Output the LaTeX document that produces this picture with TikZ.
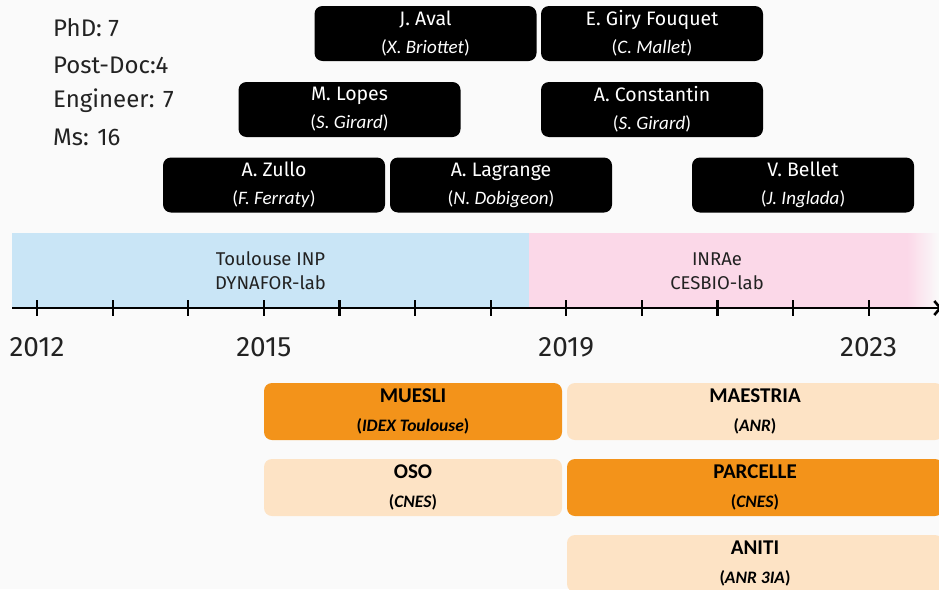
\documentclass[tikz,border=0pt]{standalone}
\usepackage{fontspec}
\usetikzlibrary{arrows.meta}
\setmainfont{Fira Sans}
\newfontfamily\condfont{Carlito}
\definecolor{bgc}{HTML}{FAFAFA}
\definecolor{bluec}{HTML}{C9E5F6}
\definecolor{pinkc}{HTML}{FBD8E8}
\definecolor{orangec}{HTML}{F3931A}
\definecolor{peachc}{HTML}{FDE3C5}
\definecolor{textc}{HTML}{222222}
\tikzset{
  student/.style={fill=black, rounded corners=8pt, minimum width=222pt, minimum height=55pt,
    text=white, align=center, inner sep=0pt, font=\fontsize{19.5}{28}\selectfont},
  project/.style={rounded corners=8pt, minimum height=57pt, inner sep=0pt, align=center,
    text=black, font=\fontsize{18}{29}\selectfont},
  hot/.style={project, fill=orangec},
  cold/.style={project, fill=peachc},
  stat/.style={anchor=west, inner sep=0pt, text=textc, font=\fontsize{24}{26}\selectfont},
  yearlbl/.style={inner sep=0pt, text=textc, font=\fontsize{28}{30}\selectfont},
  lablbl/.style={inner sep=0pt, align=center, text=textc, font=\fontsize{18.5}{24}\selectfont},
  tickmark/.style={line width=2.2pt, black},
}
\newcommand{\supv}[1]{{\condfont\fontsize{19}{28}\selectfont(\textit{#1})}}
\newcommand{\fund}[1]{{\condfont\bfseries\fontsize{17.5}{29}\selectfont(\textit{#1})}}
\newcommand{\ptitle}[1]{{\condfont\bfseries\fontsize{21}{29}\selectfont #1}}
\begin{document}
\begin{tikzpicture}[x=1pt,y=-1pt]
\useasboundingbox (0,0) rectangle (939,589);
\clip (0,0) rectangle (939,589);
\fill[bgc] (0,0) rectangle (939,589);
% lab bands
\fill[bluec] (12,233) rectangle (529,308);
\fill[pinkc] (529,233) rectangle (907,308);
\shade[left color=pinkc, right color=bgc] (907,233) rectangle (939,308);
\node[lablbl] (tinp) at (270.5,271) {Toulouse INP\\DYNAFOR-lab};
\node[lablbl] (inrae) at (717,271) {INRAe\\CESBIO-lab};
% axis
\coordinate (axs) at (12,308);
\coordinate (axe) at (942,308);
\draw[line width=2.6pt, -{Straight Barb[length=6pt,width=14pt]}] (axs) -- (axe);
\foreach \i in {0,...,11}{
  \draw[tickmark] ({37+75.6*\i},300) -- ({37+75.6*\i},316);
}
\node[yearlbl] (y2012) at (37,347) {2012};
\node[yearlbl] (y2015) at (263.8,347) {2015};
\node[yearlbl] (y2019) at (566.2,347) {2019};
\node[yearlbl] (y2023) at (868.6,347) {2023};
% stats
\node[stat] (phd) at (53,28) {PhD: 7};
\node[stat] (pd) at (53,65) {Post-Doc:4};
\node[stat] (eng) at (53,101) {Engineer: 7};
\node[stat] (ms) at (53,137) {Ms: 16};
% students
\node[student] (aval) at (425.5,33.5) {J. Aval\\\supv{X. Briottet}};
\node[student] (giry) at (652,33.5) {E. Giry Fouquet\\\supv{C. Mallet}};
\node[student] (lopes) at (349.5,109.5) {M. Lopes\\\supv{S. Girard}};
\node[student] (const) at (652,109.5) {A. Constantin\\\supv{S. Girard}};
\node[student] (zullo) at (274,185) {A. Zullo\\\supv{F. Ferraty}};
\node[student] (lagr) at (501,185) {A. Lagrange\\\supv{N. Dobigeon}};
\node[student] (bellet) at (803,185) {V. Bellet\\\supv{J. Inglada}};
% projects
\node[hot, minimum width=298pt] (muesli) at (413,411.5) {\ptitle{MUESLI}\\\fund{IDEX Toulouse}};
\node[cold, minimum width=376pt] (maestria) at (755,411.5) {\ptitle{MAESTRIA}\\\fund{ANR}};
\node[cold, minimum width=298pt] (oso) at (413,487.5) {\ptitle{OSO}\\\fund{CNES}};
\node[hot, minimum width=376pt] (parcelle) at (755,487.5) {\ptitle{PARCELLE}\\\fund{CNES}};
\node[cold, minimum width=376pt] (aniti) at (755,563.5) {\ptitle{ANITI}\\\fund{ANR 3IA}};
\end{tikzpicture}
\end{document}
